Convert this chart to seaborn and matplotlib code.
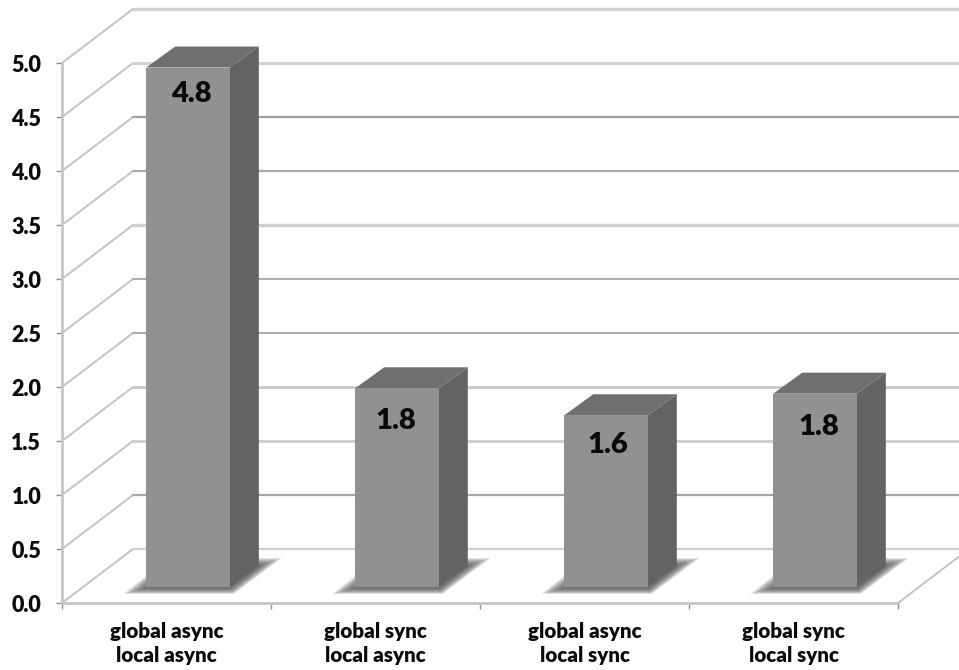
import matplotlib
matplotlib.use("Agg")
import matplotlib.pyplot as plt
import matplotlib.transforms as mtrans
from matplotlib.patches import Polygon
from matplotlib.ticker import FixedLocator, MultipleLocator
import pandas as pd
import seaborn as sns

schemes = ["global async\nlocal async", "global sync\nlocal async",
           "global async\nlocal sync", "global sync\nlocal sync"]
values = [4.81, 1.84, 1.59, 1.79]

# Back-wall gridlines, lowest level first
grid_colors = ["#cfcfcf", "#a6a6a6", "#cdcdcd", "#c9c9c9", "#adadad",
               "#adadad", "#cfcfcf", "#ababab", "#a0a0a0", "#d2d2d2", "#d0d0d0"]
grid_widths = [1.6, 1.6, 2.0, 2.0, 1.5, 1.5, 2.4, 1.6, 1.6, 2.2, 2.4]

# Value label placement relative to the top of each bar, in pixels
label_dx = [3, -1, 2, 4]
label_drop = [26, 33, 30, 33]

FACE, SIDE, TOP = "#919191", "#636363", "#6f6f6f"
AXIS_GREY = "#c6c6c6"

sns.set_theme(style="white")
plt.rcParams["font.family"] = ["Lato", "DejaVu Sans"]

fig = plt.figure(figsize=(9.59, 6.70), dpi=100)
ax = fig.add_axes([62 / 959, 67 / 670, 836 / 959, 540 / 670])

df = pd.DataFrame({"scheme": schemes, "value": values})
sns.barplot(data=df, x="scheme", y="value", color=FACE, saturation=1,
            width=0.40, ax=ax, zorder=5)
ax.set_xlim(-0.5, 3.5)
ax.set_ylim(0, 5)

# One category spans 209 px and one value unit 108 px
PX_X, PX_Y = 1 / 209, 1 / 108
WALL_X, WALL_Y = 71 * PX_X, 54 * PX_Y
BAR_X, BAR_Y = 21.5 * PX_X, 16 * PX_Y
DEPTH_X, DEPTH_Y = 29 * PX_X, 21 * PX_Y
PT_PER_PX = 72 / 100

# Back wall and left wall rules
for i, (col, lw) in enumerate(zip(grid_colors, grid_widths)):
    level = i * 0.5
    ax.plot([-0.5, -0.5 + WALL_X], [level, level + WALL_Y], color="#c4c4c4",
            lw=1.4, clip_on=False, zorder=1, solid_capstyle="round")
    ax.plot([-0.5 + WALL_X, 3.5 + WALL_X], [level + WALL_Y] * 2, color=col,
            lw=lw, clip_on=False, zorder=1)
ax.plot([3.5, 3.5 + WALL_X], [0, WALL_Y], color="#c4c4c4", lw=1.4,
        clip_on=False, zorder=1)

# Shift the bars onto the middle of the floor, then extrude them
shift = mtrans.Affine2D().translate(BAR_X, BAR_Y) + ax.transData
LAYERS = 12
for patch, val, dx, drop in zip(ax.patches, values, label_dx, label_drop):
    patch.set_transform(shift)
    patch.set_linewidth(0)
    x0 = patch.get_x() + BAR_X
    x1 = x0 + patch.get_width()
    base = BAR_Y
    top = val + BAR_Y

    # Soft floor shadow: translucent layers growing from the bar foot outward
    core = [(x0, base - 1 * PX_Y), (x1, base - 1 * PX_Y),
            (x1 + DEPTH_X, base + DEPTH_Y), (x0 + DEPTH_X, base + DEPTH_Y)]
    outer = [(x0 - 23 * PX_X, base - 7 * PX_Y), (x1 + 4 * PX_X, base - 7 * PX_Y),
             (x1 + 52 * PX_X, base + 29 * PX_Y), (x0 + 22 * PX_X, base + 29 * PX_Y)]
    for k in range(LAYERS):
        t = (k + 1) / LAYERS
        pts = [(a[0] + (b[0] - a[0]) * t, a[1] + (b[1] - a[1]) * t)
               for a, b in zip(core, outer)]
        ax.add_patch(Polygon(pts, closed=True, fc="#505050", ec="none",
                             alpha=0.12, zorder=3, clip_on=False))

    ax.add_patch(Polygon([(x1, base), (x1 + DEPTH_X, base + DEPTH_Y),
                          (x1 + DEPTH_X, top + DEPTH_Y), (x1, top)],
                         closed=True, fc=SIDE, ec="none", zorder=4, clip_on=False))
    ax.add_patch(Polygon([(x0, top), (x1, top), (x1 + DEPTH_X, top + DEPTH_Y),
                          (x0 + DEPTH_X, top + DEPTH_Y)],
                         closed=True, fc=TOP, ec="none", zorder=4, clip_on=False))
    ax.annotate(f"{val:.1f}", xy=((x0 + x1) / 2, top),
                xytext=(dx * PT_PER_PX, -drop * PT_PER_PX),
                textcoords="offset points", ha="center", va="center",
                fontsize=21, fontweight="heavy", color="#0a0a0a", zorder=6)

# Axes frame, ticks and labels
for name, spine in ax.spines.items():
    spine.set_visible(name in ("left", "bottom"))
    spine.set_color(AXIS_GREY)
    spine.set_linewidth(2.0)
    spine.set_zorder(2)

ax.yaxis.set_major_locator(MultipleLocator(0.5))
ax.yaxis.set_major_formatter(lambda v, _: f"{v:.1f}")
ax.xaxis.set_minor_locator(FixedLocator([-0.5, 0.5, 1.5, 2.5, 3.5]))
ax.tick_params(axis="y", which="major", length=4, width=1, color="#8c8c8c",
               left=True, pad=11, labelsize=15.5)
ax.tick_params(axis="x", which="major", length=0, pad=14, labelsize=14.8)
ax.tick_params(axis="x", which="minor", length=4, width=1, color="#8c8c8c",
               bottom=True)
for lab in ax.get_yticklabels() + ax.get_xticklabels():
    lab.set_fontweight("heavy")
    lab.set_color("#0a0a0a")
for lab in ax.get_xticklabels():
    lab.set_linespacing(1.3)
ax.set_xlabel("")
ax.set_ylabel("")

fig.savefig("out.png", dpi=100, facecolor="white")
